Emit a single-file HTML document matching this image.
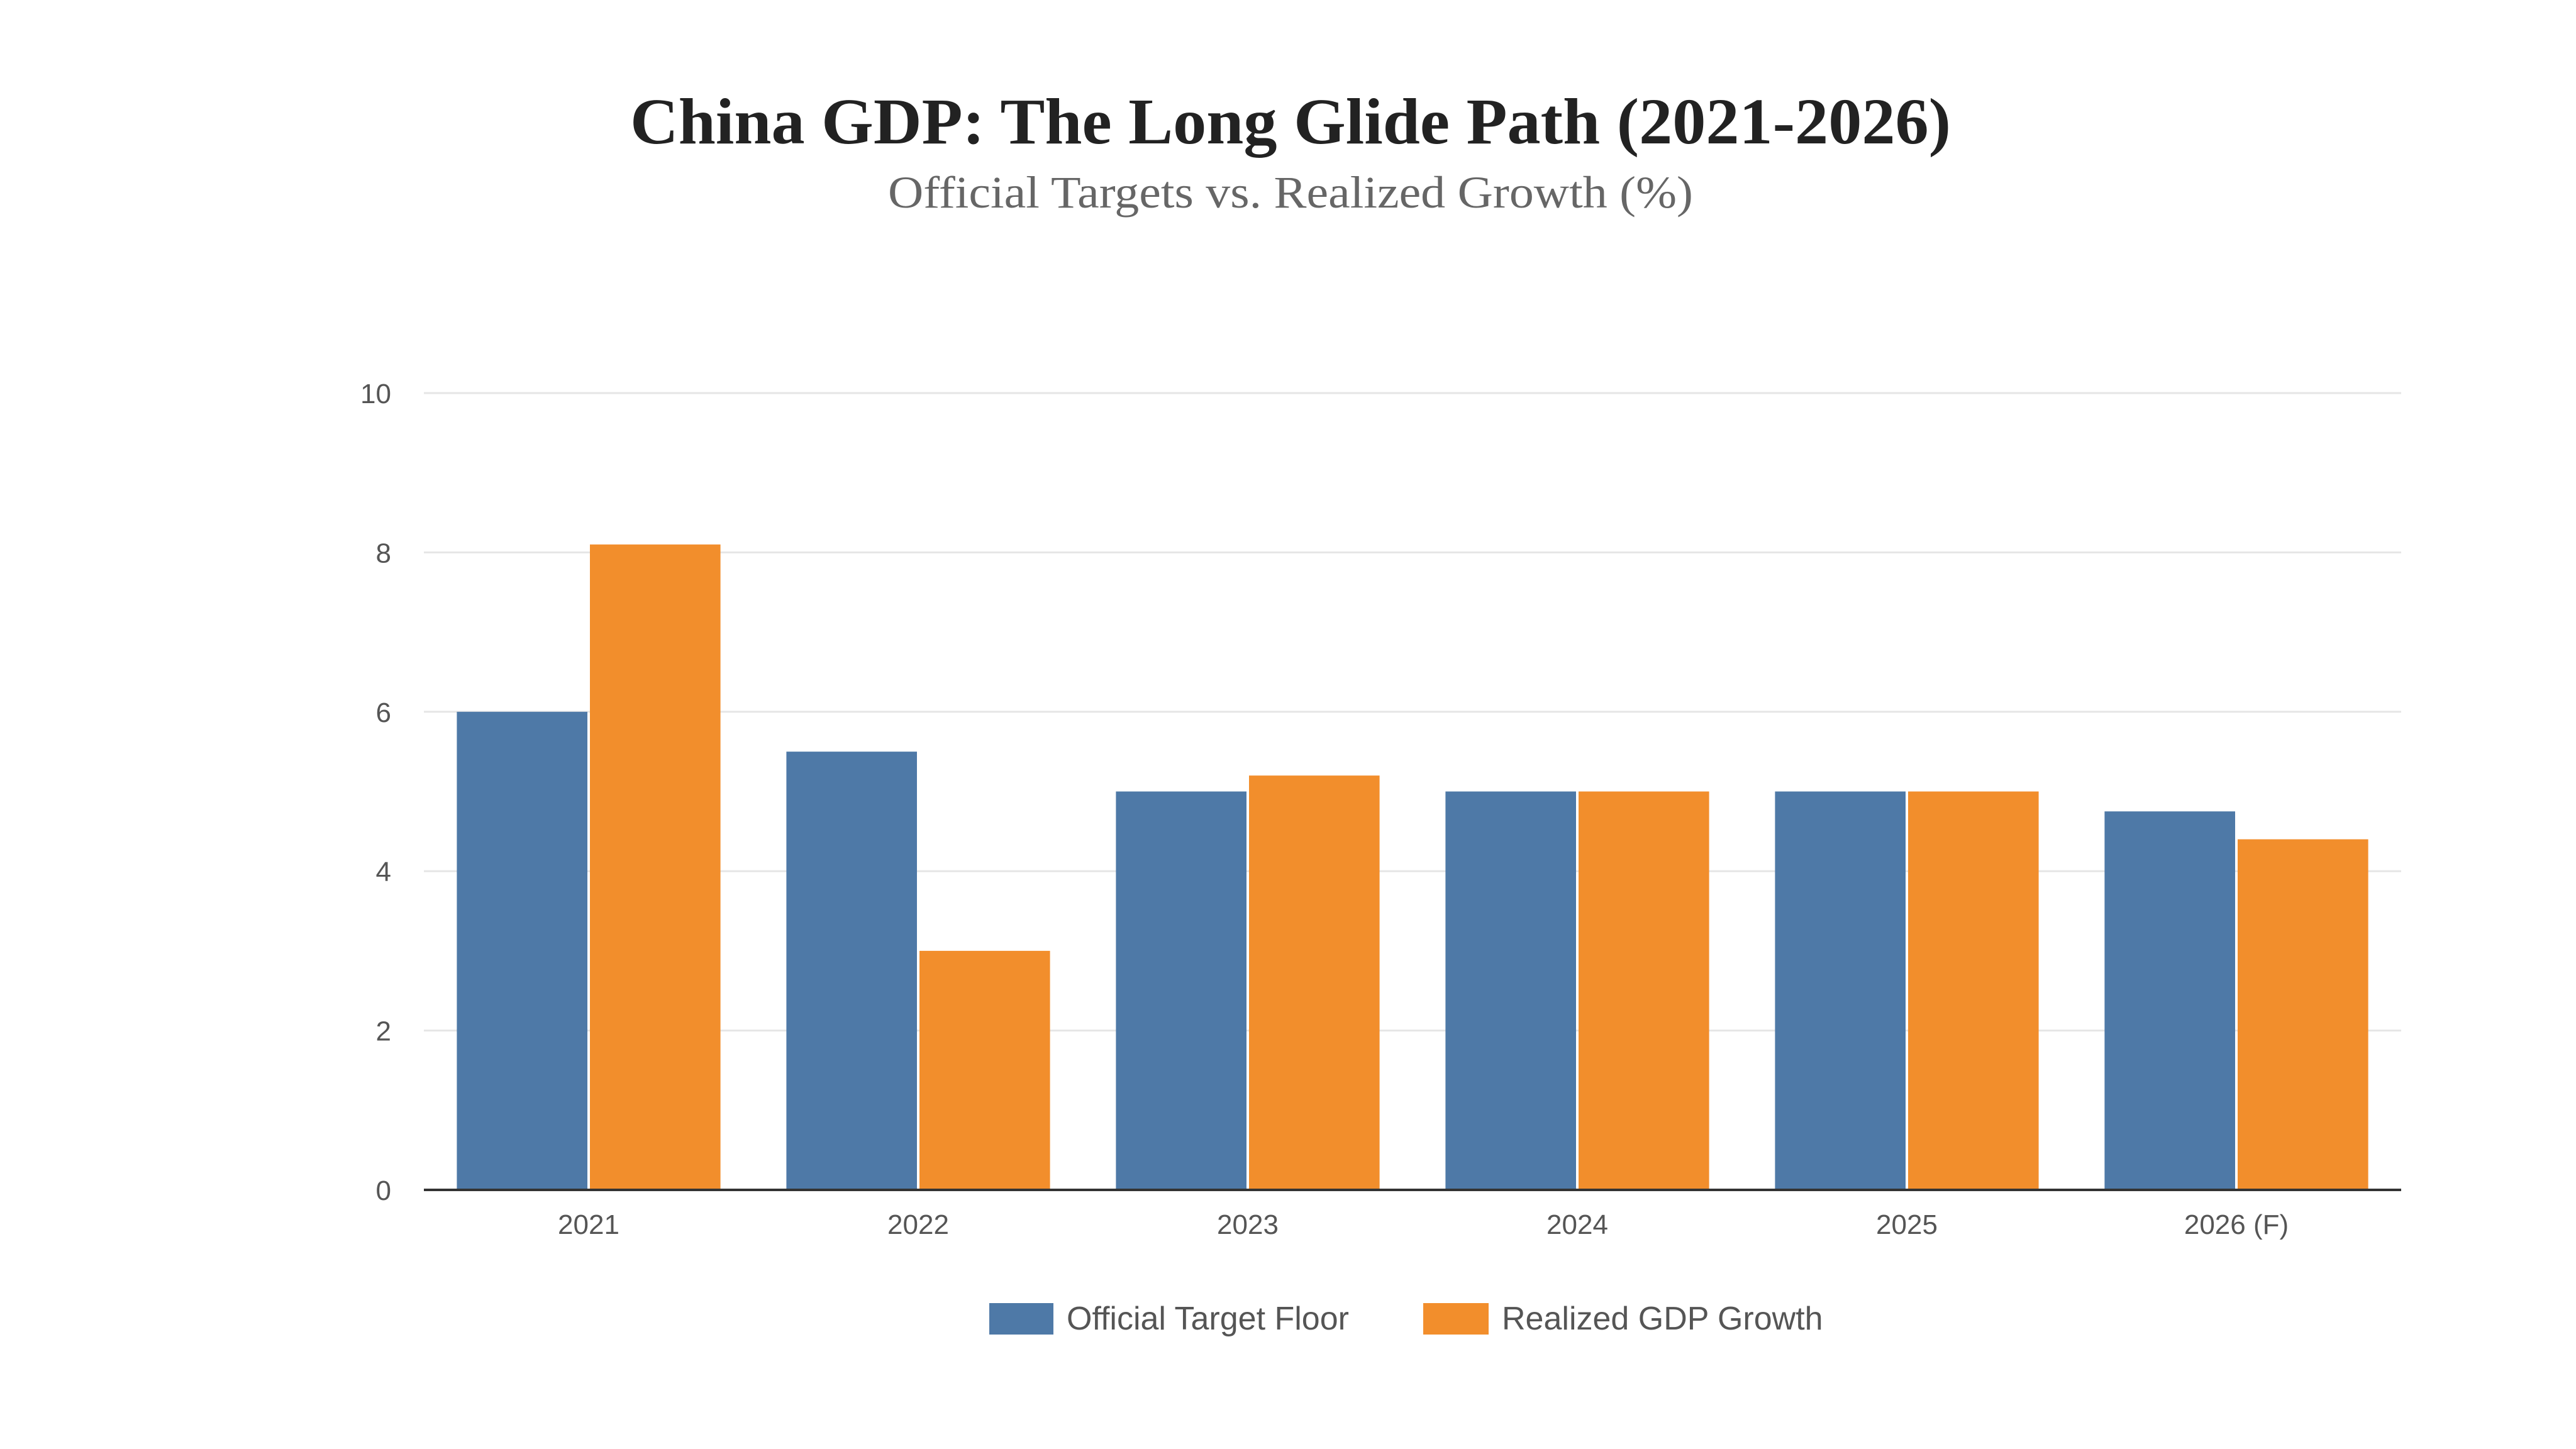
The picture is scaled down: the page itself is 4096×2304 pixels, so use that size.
<!DOCTYPE html>
<html><head><meta charset="utf-8"><style>
html,body{margin:0;padding:0;background:#fff;}
svg{display:block;}
</style></head><body>
<svg id="chart" width="4096" height="2304" viewBox="0 0 4096 2304" xmlns="http://www.w3.org/2000/svg">
<rect width="4096" height="2304" fill="#fff"/>
<text x="2052" y="228" text-anchor="middle" font-family="Liberation Serif, serif" font-weight="bold" font-size="104" fill="#222" textLength="2100" lengthAdjust="spacingAndGlyphs">China GDP: The Long Glide Path (2021-2026)</text>
<text x="2052" y="330" text-anchor="middle" font-family="Liberation Serif, serif" font-size="72" fill="#666" textLength="1280" lengthAdjust="spacingAndGlyphs">Official Targets vs. Realized Growth (%)</text>
<g id="grid"></g><g id="bars"></g><g id="axes"></g>
<g>
<rect x="1573" y="2072" width="102" height="50" fill="#4e79a7"/>
<text x="1696" y="2114" font-family="Liberation Sans, sans-serif" font-size="52" fill="#555">Official Target Floor</text>
<rect x="2263" y="2072" width="104" height="50" fill="#f28e2c"/>
<text x="2388" y="2114" font-family="Liberation Sans, sans-serif" font-size="52" fill="#555">Realized GDP Growth</text>
</g>
</svg>
<script>
const categories = ["2021","2022","2023","2024","2025","2026 (F)"];
const targetValues = [6.0, 5.5, 5.0, 5.0, 5.0, 4.75];
const realizedValues = [8.1, 3.0, 5.2, 5.0, 5.0, 4.4];
const yTicks = [0, 2, 4, 6, 8, 10];

const NS = "http://www.w3.org/2000/svg";
const L = 674, R = 3818, T = 625, B = 1892, yMax = 10;
const band = (R - L) / categories.length;
const y = v => B - (v / yMax) * (B - T);
const xBand = i => L + i * band;
function mk(tag, attrs, parent, txt) {
  const e = document.createElementNS(NS, tag);
  for (const k in attrs) e.setAttribute(k, attrs[k]);
  if (txt !== undefined) e.textContent = txt;
  parent.appendChild(e);
  return e;
}
const grid = document.getElementById('grid'), bars = document.getElementById('bars'), axes = document.getElementById('axes');
yTicks.forEach(t => {
  if (t > 0) {
    const g = mk('line', {x1: L, x2: R, y1: y(t), y2: y(t), stroke: '#e6e6e6', 'stroke-width': 3}, grid);
    
    
  }
  const lb = mk('text', {x: 622, y: y(t) + 16, 'text-anchor': 'end', 'font-family': 'Liberation Sans, sans-serif', 'font-size': 44, fill: '#555'}, axes, String(t));
  
  
});
const pad = 0.1 * band, bw = (band - 2 * pad - 4) / 2;
categories.forEach((c, i) => {
  const x0 = xBand(i) + pad;
  const b1 = mk('rect', {x: x0, y: y(targetValues[i]), width: bw, height: B - y(targetValues[i]), fill: '#4e79a7'}, bars);
  
  
  const b2 = mk('rect', {x: x0 + bw + 4, y: y(realizedValues[i]), width: bw, height: B - y(realizedValues[i]), fill: '#f28e2c'}, bars);
  
  
  const lb = mk('text', {x: xBand(i) + band / 2, y: 1962, 'text-anchor': 'middle', 'font-family': 'Liberation Sans, sans-serif', 'font-size': 44, fill: '#555'}, axes, c);
  
  
});
const ax = mk('line', {x1: L, x2: R, y1: B, y2: B, stroke: '#333', 'stroke-width': 4}, axes);


</script>
</body></html>
